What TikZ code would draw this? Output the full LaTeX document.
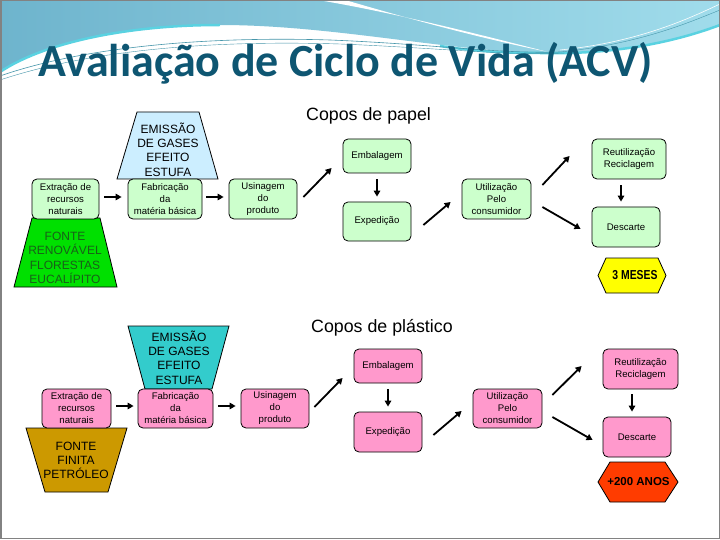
\documentclass[tikz,border=0pt]{standalone}
\usepackage{fontspec}
\setmainfont{Liberation Sans}
\newfontfamily\titlefont{Carlito}
\usetikzlibrary{calc,arrows.meta}
\definecolor{pgreen}{RGB}{204,255,204}
\definecolor{ppink}{RGB}{255,153,204}
\definecolor{tlblue}{RGB}{204,238,255}
\definecolor{tgreen}{RGB}{0,224,0}
\definecolor{tgreentxt}{RGB}{25,95,25}
\definecolor{tteal}{RGB}{51,204,204}
\definecolor{tbrown}{RGB}{204,153,0}
\definecolor{hyellow}{RGB}{255,255,0}
\definecolor{hred}{RGB}{255,60,0}
\definecolor{titlecol}{RGB}{14,86,114}
\definecolor{hdrA}{RGB}{110,180,205}
\definecolor{hdrB}{RGB}{160,220,235}
\definecolor{hdrline}{RGB}{70,150,170}
\definecolor{hdrcyan}{RGB}{90,210,225}
\definecolor{framecol}{RGB}{130,130,130}
\begin{document}
\begin{tikzpicture}[x=1pt,y=-1pt,
  box/.style={draw=black, line width=0.8pt, rounded corners=5pt, align=center,
    font=\fontsize{9.6}{12}\selectfont, inner sep=0pt},
  paperbox/.style={box, fill=pgreen},
  plastbox/.style={box, fill=ppink},
  arr/.style={line width=1.8pt, -{Triangle[length=6pt,width=6.5pt]}},
  trapshape/.style={draw=black, line width=0.8pt},
  traptext/.style={align=center, font=\fontsize{12}{14.3}\selectfont, inner sep=0pt},
  subtitle/.style={font=\fontsize{17.8}{20}\selectfont, inner sep=0pt, anchor=base west},
  hexshape/.style={draw=black, line width=0.8pt}
]
\useasboundingbox (0,0) rectangle (720,540);
\fill[white] (0,0) rectangle (720,540);
% header
\shade[left color=hdrA, right color=hdrB]
  (0,0) -- (720,0) -- (720,25)
  .. controls (680,40) and (620,55) .. (540,53)
  .. controls (440,50) and (330,25) .. (220,25)
  .. controls (120,25) and (40,45) .. (0,72) -- cycle;
\draw[hdrcyan, line width=2.5pt] (0,72) .. controls (40,45) and (120,25) .. (220,25);
\draw[hdrcyan, line width=2.5pt] (440,46) .. controls (480,52) and (510,53) .. (540,53)
  .. controls (620,55) and (680,40) .. (720,25);
\fill[white] (318,0) .. controls (390,12) and (470,32) .. (548,52)
  .. controls (470,36) and (400,16) .. (345,0) -- cycle;
\draw[hdrline, line width=0.6pt] (0,76) .. controls (80,48) and (200,36) .. (330,40)
  .. controls (430,44) and (500,54) .. (560,52);
\draw[hdrline, line width=0.4pt] (0,80) .. controls (90,50) and (210,40) .. (340,44)
  .. controls (440,48) and (510,56) .. (565,53);
\draw[white, line width=0.6pt] (560,50) .. controls (640,42) and (690,18) .. (720,4);
\draw[hdrline, line width=0.4pt] (560,52) .. controls (640,44) and (690,22) .. (720,10);
\node[font=\titlefont\bfseries\fontsize{46}{50}\selectfont, text=titlecol, anchor=base,
  inner sep=0pt] (title) at (345.5,77) {Avaliação de Ciclo de Vida (ACV)};
% frame
\draw[framecol, line width=1.5pt] (0.75,0.75) rectangle (719.25,538.5);

% ---------- paper cups ----------
\node[subtitle] (sub1) at (306,121) {Copos de papel};
\draw[trapshape, fill=tgreen] (32,218) -- (100,218) -- (117,287) -- (14,287) -- cycle;
\node[traptext, text=tgreentxt] (fonte1) at (65,258) {FONTE\\RENOVÁVEL\\FLORESTAS\\EUCALÍPITO};
\draw[trapshape, fill=tlblue] (137,112) -- (199,112) -- (218,179) -- (117,179) -- cycle;
\node[traptext] (emis1) at (168,149.5) {EMISSÃO\\DE GASES\\EFEITO\\ESTUFA};

\node[paperbox, minimum width=67pt, minimum height=40pt] (ext1) at (65.5,199) {Extração de\\recursos\\naturais};
\node[paperbox, minimum width=74pt, minimum height=40pt] (fab1) at (165,199) {Fabricação\\da\\matéria básica};
\node[paperbox, minimum width=68pt, minimum height=40pt] (usi1) at (263,199) {Usinagem\\do\\produto};
\node[paperbox, minimum width=68pt, minimum height=34pt] (emb1) at (377,156) {Embalagem};
\node[paperbox, minimum width=68pt, minimum height=39pt] (exp1) at (377,221.5) {Expedição};
\node[paperbox, minimum width=69pt, minimum height=40pt] (uti1) at (496.5,199) {Utilização\\Pelo\\consumidor};
\node[paperbox, minimum width=74pt, minimum height=40pt] (reu1) at (629,159) {Reutilização\\Reciclagem};
\node[paperbox, minimum width=68pt, minimum height=40pt] (des1) at (626,227) {Descarte};

\draw[hexshape, fill=hyellow] (598,275.5) -- (606,258) -- (658,258) -- (666,275.5) -- (658,293) -- (606,293) -- cycle;
\node[font=\bfseries\fontsize{13}{14}\selectfont, inner sep=0pt] (mes) at (635,275.5) {\scalebox{0.8}[1]{3 MESES}};

\draw[arr] ($(ext1.east)+(5,-2)$) -- ($(fab1.west)+(-6,-2)$);
\draw[arr] ($(fab1.east)+(4,-2)$) -- ($(usi1.west)+(-5,-2)$);
\draw[arr] ($(usi1.east)+(6,-2)$) -- ($(emb1.west)+(-11,12)$);
\draw[arr] ($(emb1.south)+(0,6)$) -- ($(exp1.north)+(0,-5)$);
\draw[arr] ($(exp1.east)+(12,3.5)$) -- ($(uti1.west)+(-11,3)$);
\draw[arr] ($(uti1.east)+(11,-14)$) -- ($(reu1.west)+(-22,-3)$);
\draw[arr] ($(uti1.east)+(11,8)$) -- ($(des1.west)+(-11,2)$);
\draw[arr] ($(reu1.south)+(-8,6)$) -- ($(des1.north)+(-5,-5)$);

% ---------- plastic cups ----------
\node[subtitle] (sub2) at (311,332) {Copos de plástico};
\draw[trapshape, fill=tteal] (128,326) -- (229,326) -- (212,389) -- (145,389) -- cycle;
\node[traptext] (emis2) at (179,357.5) {EMISSÃO\\DE GASES\\EFEITO\\ESTUFA};
\draw[trapshape, fill=tbrown] (26,428) -- (127,428) -- (108,492) -- (45,492) -- cycle;
\node[traptext] (fonte2) at (76,460.5) {FONTE\\FINITA\\PETRÓLEO};

\node[plastbox, minimum width=69pt, minimum height=39pt] (ext2) at (76.5,408.5) {Extração de\\recursos\\naturais};
\node[plastbox, minimum width=75pt, minimum height=39pt] (fab2) at (175.5,408.5) {Fabricação\\da\\matéria básica};
\node[plastbox, minimum width=68pt, minimum height=39pt] (usi2) at (275,408.5) {Usinagem\\do\\produto};
\node[plastbox, minimum width=68pt, minimum height=34pt] (emb2) at (388,366) {Embalagem};
\node[plastbox, minimum width=68pt, minimum height=40pt] (exp2) at (388,432) {Expedição};
\node[plastbox, minimum width=69pt, minimum height=39pt] (uti2) at (507.5,408.5) {Utilização\\Pelo\\consumidor};
\node[plastbox, minimum width=75pt, minimum height=40pt] (reu2) at (640.5,369) {Reutilização\\Reciclagem};
\node[plastbox, minimum width=68pt, minimum height=40pt] (des2) at (637,437) {Descarte};

\draw[hexshape, fill=hred] (598,482) -- (610,462) -- (665,462) -- (678,482) -- (665,502) -- (610,502) -- cycle;
\node[font=\bfseries\fontsize{11.5}{13}\selectfont, inner sep=0pt] (anos) at (638.5,482) {+200 ANOS};

\draw[arr] ($(ext2.east)+(5,-2.5)$) -- ($(fab2.west)+(-4,-2.5)$);
\draw[arr] ($(fab2.east)+(5,-2.5)$) -- ($(usi2.west)+(-5,-2.5)$);
\draw[arr] ($(usi2.east)+(5,-1.5)$) -- ($(emb2.west)+(-11,12)$);
\draw[arr] ($(emb2.south)+(0,6)$) -- ($(exp2.north)+(0,-5)$);
\draw[arr] ($(exp2.east)+(11,3)$) -- ($(uti2.west)+(-11,2.5)$);
\draw[arr] ($(uti2.east)+(10,-13.5)$) -- ($(reu2.west)+(-21,-3)$);
\draw[arr] ($(uti2.east)+(10,8.5)$) -- ($(des2.west)+(-10,3)$);
\draw[arr] ($(reu2.south)+(-8.5,5)$) -- ($(des2.north)+(-5,-5)$);
\end{tikzpicture}
\end{document}
